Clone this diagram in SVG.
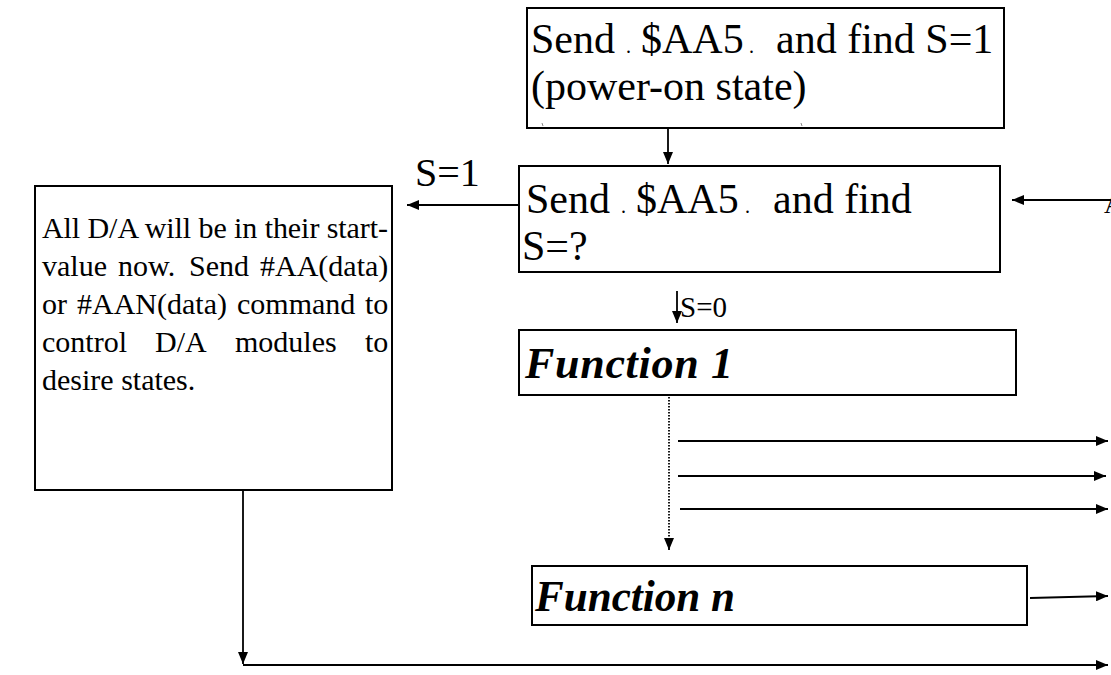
<svg xmlns="http://www.w3.org/2000/svg" width="1111" height="675" viewBox="0 0 1111 675">
  <defs>
    <marker id="arrow" viewBox="0 0 12 10" refX="12" refY="5" markerWidth="12" markerHeight="10" markerUnits="userSpaceOnUse" orient="auto">
      <path d="M0,0 L12,5 L0,10 Z" fill="#000"/>
    </marker>
    <style>
      .box { fill: #fff; stroke: #000; stroke-width: 2; }
      .txt { font-family: "Liberation Serif", "Times New Roman", serif; fill: #000; }
      .big { font-size: 42px; }
      .body { font-size: 30px; }
      .fn { font-size: 44px; font-weight: bold; font-style: italic; }
      .dot { font-size: 20px; }
      .wire { fill: none; stroke: #000; stroke-width: 1.8; }
      .dotted { fill: none; stroke: #000; stroke-width: 1.8; stroke-dasharray: 1.5 1.5; }
    </style>
  </defs>

  <!-- Connectors -->
  <g id="connectors">
    <line class="wire" x1="668" y1="128" x2="668" y2="164" marker-end="url(#arrow)"/>
    <line class="wire" x1="519" y1="205" x2="407" y2="205" marker-end="url(#arrow)"/>
    <text class="txt" x="415" y="186" font-size="40">S=1</text>
    <line class="wire" x1="1111" y1="200" x2="1012" y2="200" marker-end="url(#arrow)"/>
    <text class="txt" x="1104" y="213" font-size="26">A</text>
    <line class="wire" x1="677" y1="291" x2="677" y2="323" marker-end="url(#arrow)"/>
    <text class="txt" x="680" y="317" font-size="29">S=0</text>
    <line class="dotted" x1="669" y1="397" x2="669" y2="538"/>
    <line class="wire" x1="669" y1="538" x2="669" y2="550" marker-end="url(#arrow)"/>
    <line class="wire" x1="678" y1="441" x2="1108" y2="441" stroke-width="2.2" marker-end="url(#arrow)"/>
    <line class="wire" x1="678" y1="476" x2="1106" y2="476" marker-end="url(#arrow)"/>
    <line class="wire" x1="680" y1="509" x2="1108" y2="509" marker-end="url(#arrow)"/>
    <line class="wire" x1="1030" y1="598" x2="1108" y2="596" marker-end="url(#arrow)"/>
    <line class="wire" x1="243" y1="490" x2="243" y2="664" marker-end="url(#arrow)"/>
    <line class="wire" x1="243" y1="665" x2="1108" y2="665" stroke-width="2.2" marker-end="url(#arrow)"/>
  </g>

  <!-- Power-on check -->
  <g id="node-poweron">
    <rect class="box" x="527" y="8" width="477" height="120"/>
    <text class="txt big" y="53"><tspan x="531">Send</tspan><tspan class="dot" x="626">.</tspan><tspan x="641">$AA5</tspan><tspan class="dot" x="749">.</tspan><tspan x="776">and find S=1</tspan></text>
    <text class="txt big" x="531" y="100">(power-on state)</text>
    <line x1="542" y1="123" x2="543" y2="126" stroke="#888" stroke-width="1"/>
    <line x1="801" y1="123" x2="802" y2="126" stroke="#888" stroke-width="1"/>
  </g>

  <!-- Status query -->
  <g id="node-query">
    <rect class="box" x="519" y="166" width="481" height="106"/>
    <text class="txt big" y="213"><tspan x="526">Send</tspan><tspan class="dot" x="621">.</tspan><tspan x="636">$AA5</tspan><tspan class="dot" x="745">.</tspan><tspan x="773">and find</tspan></text>
    <text class="txt big" x="522" y="260">S=?</text>
  </g>

  <!-- Start-value note -->
  <g id="node-startvalue">
    <rect class="box" x="35" y="186" width="357" height="304"/>
    <text class="txt body" x="42" y="238" textLength="346" lengthAdjust="spacing">All D/A will be in their start-</text>
    <text class="txt body" y="276"><tspan x="42">value</tspan><tspan x="118">now.</tspan><tspan x="189">Send</tspan><tspan x="260">#AA(data)</tspan></text>
    <text class="txt body" y="314"><tspan x="42">or</tspan><tspan x="77">#AAN(data)</tspan><tspan x="237">command</tspan><tspan x="365">to</tspan></text>
    <text class="txt body" y="352"><tspan x="42">control</tspan><tspan x="155">D/A</tspan><tspan x="235">modules</tspan><tspan x="365">to</tspan></text>
    <text class="txt body" x="42" y="390">desire states.</text>
  </g>

  <!-- Function 1 -->
  <g id="node-function1">
    <rect class="box" x="519" y="330" width="497" height="65"/>
    <text class="txt fn" x="525" y="378" textLength="208" lengthAdjust="spacing">Function 1</text>
  </g>

  <!-- Function n -->
  <g id="node-functionn">
    <rect class="box" x="532" y="566" width="495" height="59"/>
    <text class="txt fn" x="535" y="611" font-size="46" textLength="200" lengthAdjust="spacingAndGlyphs">Function n</text>
  </g>
</svg>
